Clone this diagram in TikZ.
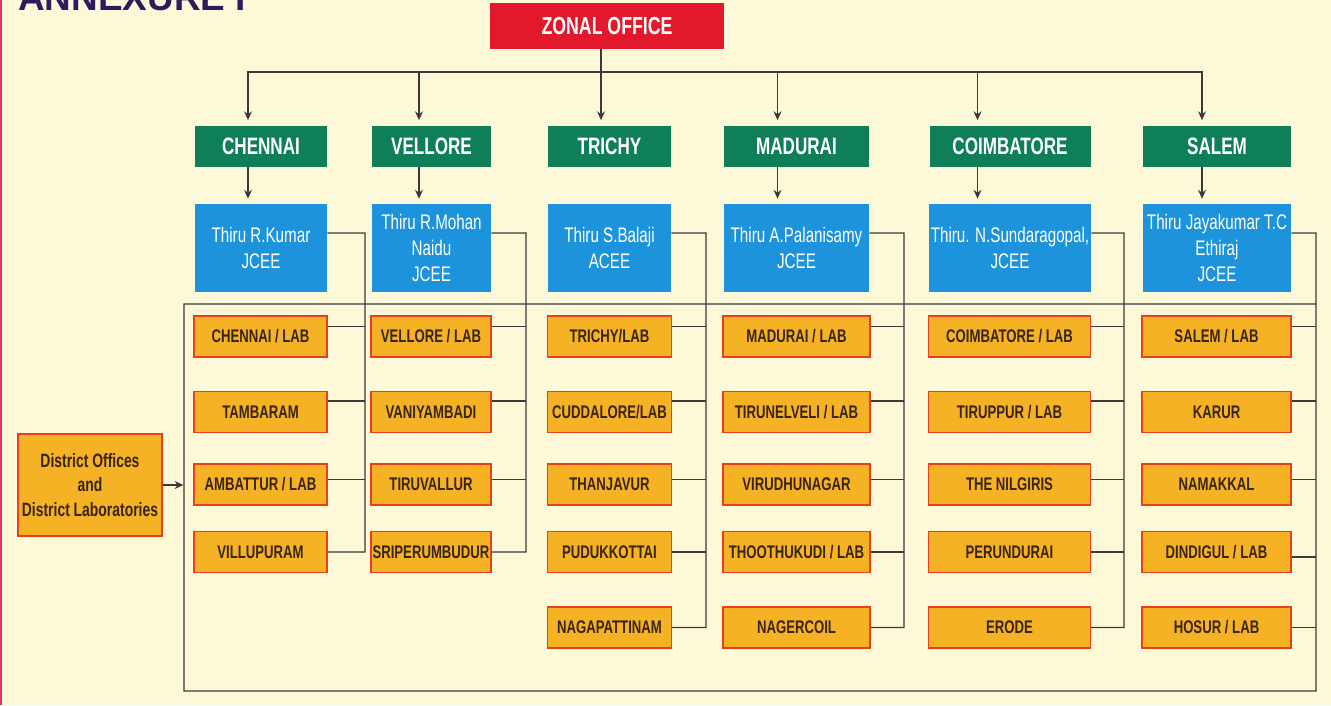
\documentclass[tikz,border=0pt]{standalone}
\usepackage{fontspec}
\setmainfont{Liberation Sans}[FakeStretch=0.72]
\newfontfamily\annexfont{Liberation Sans}
\usetikzlibrary{positioning}
\usetikzlibrary{arrows.meta}
\definecolor{paper}{HTML}{FDF8D8}
\definecolor{zonered}{HTML}{E2192C}
\definecolor{regiongreen}{HTML}{0F7F59}
\definecolor{officerblue}{HTML}{1C93DA}
\definecolor{labfill}{HTML}{F4B224}
\definecolor{labedge}{HTML}{E8401E}
\definecolor{labtext}{HTML}{3A2412}
\definecolor{linkgray}{HTML}{3A3A3A}
\definecolor{annexpurple}{HTML}{2E1B5E}
\definecolor{borderred}{HTML}{D9366A}

\begin{document}
\begin{tikzpicture}[x=0.2mm,y=-0.2mm,
  zonebox/.style={fill=zonered,text=white,minimum width=46.8mm,minimum height=9.2mm,font=\bfseries\fontsize{14}{16}\selectfont},
  regionbox/.style={fill=regiongreen,text=white,minimum height=8.2mm,font=\bfseries\fontsize{13.5}{15}\selectfont},
  officerbox/.style={fill=officerblue,text=white,minimum height=17.6mm,align=center,inner sep=1pt,font=\fontsize{12}{14.8}\selectfont},
  labbox/.style={fill=labfill,draw=labedge,line width=0.8pt,text=labtext,minimum height=8.2mm,inner sep=0.5pt,font=\bfseries\fontsize{10.4}{12}\selectfont},
  officebox/.style={labbox,minimum width=28.8mm,minimum height=20.4mm,align=center,font=\bfseries\fontsize{11}{14}\selectfont},
  link/.style={draw=linkgray,line width=0.8pt},
  feed/.style={link,-{Stealth[length=5pt,width=4.5pt]},shorten >=1mm}]
 \clip (0,0) rectangle (1331,705);
 \fill[paper] (0,0) rectangle (1331,705);
 \draw[borderred,line width=0.5mm] (1,0) -- (1,705);
 \node[anchor=base west,inner sep=0pt,text=annexpurple,font=\annexfont\bfseries\fontsize{21}{21}\selectfont] (annex) at (18,10) {ANNEXURE I};

 \node[zonebox] (zonal) at (607,26) {ZONAL OFFICE};

 \node[regionbox,minimum width=26.4mm] (chennai) at (261,146) {CHENNAI};
 \node[regionbox,minimum width=23.8mm] (vellore) at (431.5,146) {VELLORE};
 \node[regionbox,minimum width=24.6mm] (trichy) at (609.5,146) {TRICHY};
 \node[regionbox,minimum width=29mm] (madurai) at (796.5,146) {MADURAI};
 \node[regionbox,minimum width=32.2mm] (coimbatore) at (1010,146) {COIMBATORE};
 \node[regionbox,minimum width=29.6mm] (salem) at (1217,146) {SALEM};

 \node[officerbox,minimum width=26.4mm] (kumar) at (261,248) {Thiru R.Kumar\\JCEE};
 \node[officerbox,minimum width=23.8mm] (mohan) at (431.5,248) {Thiru R.Mohan\\Naidu\\JCEE};
 \node[officerbox,minimum width=24.6mm] (balaji) at (609.5,248) {Thiru S.Balaji\\ACEE};
 \node[officerbox,minimum width=29mm] (palani) at (796.5,248) {Thiru A.Palanisamy\\JCEE};
 \node[officerbox,minimum width=32.2mm] (sundar) at (1010,248) {Thiru. N.Sundaragopal,\\JCEE};
 \node[officerbox,minimum width=29.6mm] (jaya) at (1217,248) {Thiru Jayakumar T.C\\Ethiraj\\JCEE};

 \node[labbox,minimum width=26.6mm] (chlab) at (260.5,336.5) {CHENNAI / LAB};
 \node[labbox,minimum width=26.6mm] (tambaram) at (260.5,412) {TAMBARAM};
 \node[labbox,minimum width=26.6mm] (ambattur) at (260.5,484.5) {AMBATTUR / LAB};
 \node[labbox,minimum width=26.6mm] (villu) at (260.5,552) {VILLUPURAM};

 \node[labbox,minimum width=24mm] (vllab) at (431,336.5) {VELLORE / LAB};
 \node[labbox,minimum width=24mm] (vaniyam) at (431,412) {VANIYAMBADI};
 \node[labbox,minimum width=24mm] (tiruval) at (431,484.5) {TIRUVALLUR};
 \node[labbox,minimum width=24mm] (sriperum) at (431,552) {SRIPERUMBUDUR};

 \node[labbox,minimum width=24.8mm] (trlab) at (609.5,336.5) {TRICHY/LAB};
 \node[labbox,minimum width=24.8mm] (cuddal) at (609.5,412) {CUDDALORE/LAB};
 \node[labbox,minimum width=24.8mm] (thanja) at (609.5,484.5) {THANJAVUR};
 \node[labbox,minimum width=24.8mm] (pudukk) at (609.5,552) {PUDUKKOTTAI};
 \node[labbox,minimum width=24.8mm] (nagapat) at (609.5,627.5) {NAGAPATTINAM};

 \node[labbox,minimum width=29.4mm] (mdlab) at (796.5,336.5) {MADURAI / LAB};
 \node[labbox,minimum width=29.4mm] (tirunel) at (796.5,412) {TIRUNELVELI / LAB};
 \node[labbox,minimum width=29.4mm] (virudh) at (796.5,484.5) {VIRUDHUNAGAR};
 \node[labbox,minimum width=29.4mm] (thooth) at (796.5,552) {THOOTHUKUDI / LAB};
 \node[labbox,minimum width=29.4mm] (nagerc) at (796.5,627.5) {NAGERCOIL};

 \node[labbox,minimum width=32.4mm] (cblab) at (1009.5,336.5) {COIMBATORE / LAB};
 \node[labbox,minimum width=32.4mm] (tirupp) at (1009.5,412) {TIRUPPUR / LAB};
 \node[labbox,minimum width=32.4mm] (nilgiri) at (1009.5,484.5) {THE NILGIRIS};
 \node[labbox,minimum width=32.4mm] (perund) at (1009.5,552) {PERUNDURAI};
 \node[labbox,minimum width=32.4mm] (erode) at (1009.5,627.5) {ERODE};

 \node[labbox,minimum width=29.8mm] (sllab) at (1216.5,336.5) {SALEM / LAB};
 \node[labbox,minimum width=29.8mm] (karur) at (1216.5,412) {KARUR};
 \node[labbox,minimum width=29.8mm] (namakk) at (1216.5,484.5) {NAMAKKAL};
 \node[labbox,minimum width=29.8mm] (dindig) at (1216.5,552) {DINDIGUL / LAB};
 \node[labbox,minimum width=29.8mm] (hosur) at (1216.5,627.5) {HOSUR / LAB};

 \node[officebox] (district) at (90,485) {District Offices\\and\\District Laboratories};

 \coordinate (fork) at (601,72);
 \coordinate (busA) at (365,233);
 \coordinate (busB) at (526,233);
 \coordinate (busC) at (706,233);
 \coordinate (busD) at (904,233);
 \coordinate (busE) at (1124,233);
 \coordinate (busF) at (1316,233);
 \coordinate (loopTL) at (184,304);
 \coordinate (loopBL) at (184,691);

 \draw[link] (zonal.south -| fork) -- (fork);
 \draw[feed] (fork) -| ([xshift=-2.6mm]chennai.north);
 \draw[feed] (fork) -| ([xshift=-2.5mm]vellore.north);
 \draw[feed] (fork) -- (trichy.north -| fork);
 \draw[feed] (fork) -| ([xshift=-3.8mm]madurai.north);
 \draw[feed] (fork) -| ([xshift=-6.5mm]coimbatore.north);
 \draw[feed] (fork) -| ([xshift=-3mm]salem.north);

 \draw[feed] ([xshift=-2.6mm]chennai.south) -- ([xshift=-2.6mm]kumar.north);
 \draw[feed] ([xshift=-2.5mm]vellore.south) -- ([xshift=-2.5mm]mohan.north);
 \draw[feed] ([xshift=-3.8mm]madurai.south) -- ([xshift=-3.8mm]palani.north);
 \draw[feed] ([xshift=-6.5mm]coimbatore.south) -- ([xshift=-6.5mm]sundar.north);
 \draw[feed] ([xshift=-3mm]salem.south) -- ([xshift=-3mm]jaya.north);

 \draw[link] ([yshift=3mm]kumar.east) -- (busA) |- (villu.east);
 \draw[link] ([yshift=2mm]chlab.east) -- ([yshift=2mm]chlab.east -| busA);
 \draw[link] ([yshift=2.2mm]tambaram.east) -- ([yshift=2.2mm]tambaram.east -| busA);
 \draw[link] ([yshift=1mm]ambattur.east) -- ([yshift=1mm]ambattur.east -| busA);

 \draw[link] ([yshift=3mm]mohan.east) -- (busB) |- (sriperum.east);
 \draw[link] ([yshift=2mm]vllab.east) -- ([yshift=2mm]vllab.east -| busB);
 \draw[link] ([yshift=2.2mm]vaniyam.east) -- ([yshift=2.2mm]vaniyam.east -| busB);
 \draw[link] ([yshift=1mm]tiruval.east) -- ([yshift=1mm]tiruval.east -| busB);

 \draw[link] ([yshift=3mm]balaji.east) -- (busC) |- (nagapat.east);
 \draw[link] ([yshift=2mm]trlab.east) -- ([yshift=2mm]trlab.east -| busC);
 \draw[link] ([yshift=2.2mm]cuddal.east) -- ([yshift=2.2mm]cuddal.east -| busC);
 \draw[link] ([yshift=1mm]thanja.east) -- ([yshift=1mm]thanja.east -| busC);
 \draw[link] (pudukk.east) -- (pudukk.east -| busC);

 \draw[link] ([yshift=3mm]palani.east) -- (busD) |- (nagerc.east);
 \draw[link] ([yshift=2mm]mdlab.east) -- ([yshift=2mm]mdlab.east -| busD);
 \draw[link] ([yshift=2.2mm]tirunel.east) -- ([yshift=2.2mm]tirunel.east -| busD);
 \draw[link] ([yshift=1mm]virudh.east) -- ([yshift=1mm]virudh.east -| busD);
 \draw[link] (thooth.east) -- (thooth.east -| busD);

 \draw[link] ([yshift=3mm]sundar.east) -- (busE) |- (erode.east);
 \draw[link] ([yshift=2mm]cblab.east) -- ([yshift=2mm]cblab.east -| busE);
 \draw[link] ([yshift=2.2mm]tirupp.east) -- ([yshift=2.2mm]tirupp.east -| busE);
 \draw[link] ([yshift=1mm]nilgiri.east) -- ([yshift=1mm]nilgiri.east -| busE);
 \draw[link] (perund.east) -- (perund.east -| busE);

 \draw[link] ([yshift=3mm]jaya.east) -- (busF) |- (loopBL) -- (loopTL) -- (loopTL -| busF);
 \draw[link] ([yshift=2mm]sllab.east) -- ([yshift=2mm]sllab.east -| busF);
 \draw[link] ([yshift=2.2mm]karur.east) -- ([yshift=2.2mm]karur.east -| busF);
 \draw[link] ([yshift=1mm]namakk.east) -- ([yshift=1mm]namakk.east -| busF);
 \draw[link] ([yshift=-1mm]dindig.east) -- ([yshift=-1mm]dindig.east -| busF);
 \draw[link] (hosur.east) -- (hosur.east -| busF);

 \draw[feed,shorten >=0.3pt] (district.east) -- (district.east -| loopTL);
\end{tikzpicture}
\end{document}
